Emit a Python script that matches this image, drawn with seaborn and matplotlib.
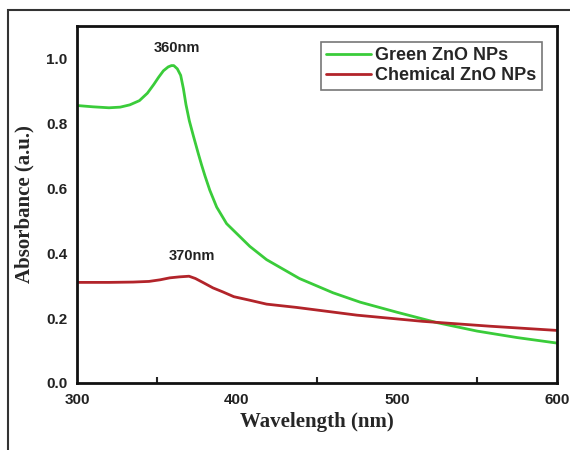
import numpy as np
import pandas as pd
import matplotlib
matplotlib.use("Agg")
import matplotlib.pyplot as plt
import seaborn as sns
from matplotlib.ticker import MultipleLocator
from matplotlib.patches import Rectangle

green_nm = [300, 310, 320, 327, 333, 339, 344, 348, 351, 354, 357, 359, 360.5, 362.7, 364.8,
            366.5, 368.1, 370.2, 372.7, 375.8, 377.8, 380, 383, 387.3, 393.5, 402, 408, 418.5,
            439, 460, 477, 500, 525, 550, 575, 600]
green_abs = [0.855, 0.851, 0.848, 0.850, 0.857, 0.870, 0.893, 0.920, 0.942, 0.962, 0.974, 0.978,
             0.978, 0.968, 0.948, 0.907, 0.858, 0.808, 0.762, 0.707, 0.673, 0.638, 0.594,
             0.542, 0.491, 0.450, 0.421, 0.380, 0.322, 0.278, 0.249, 0.218, 0.186, 0.160,
             0.140, 0.123]
chem_nm = [300, 320, 335, 345, 352, 358, 364, 370, 374, 379, 385, 391, 398, 408, 418.5, 437,
           475, 516, 558, 600]
chem_abs = [0.310, 0.310, 0.311, 0.313, 0.318, 0.324, 0.327, 0.329, 0.322, 0.309, 0.293, 0.281,
            0.266, 0.255, 0.243, 0.233, 0.209, 0.190, 0.175, 0.162]
series_names = ["Green ZnO NPs", "Chemical ZnO NPs"]
peak_labels = ["360nm", "370nm"]
peak_label_pos = [(362.5, 1.01), (372, 0.37)]

df = pd.concat([
    pd.DataFrame({"nm": green_nm, "abs": green_abs, "sample": series_names[0]}),
    pd.DataFrame({"nm": chem_nm, "abs": chem_abs, "sample": series_names[1]}),
])

sns.set_style("white")
plt.rcParams['font.family'] = ['Liberation Sans', 'DejaVu Sans']

fig = plt.figure(figsize=(5.7, 4.5), dpi=100)
ax = fig.add_axes([77/570, 67/450, 480/570, 357/450])

palette = {series_names[0]: "#3acc3a", series_names[1]: "#b2242a"}
sns.lineplot(data=df, x="nm", y="abs", hue="sample", palette=palette, linewidth=2.0,
             ax=ax, estimator=None, sort=True)
for ln in ax.get_lines():
    ln.set_solid_joinstyle('round')

ax.set_xlim(300, 600)
ax.set_ylim(0, 1.1)
ax.xaxis.set_major_locator(MultipleLocator(100))
ax.xaxis.set_minor_locator(MultipleLocator(50))
ax.yaxis.set_major_locator(MultipleLocator(0.2))
ax.yaxis.set_major_formatter(matplotlib.ticker.FormatStrFormatter('%.1f'))
ax.tick_params(axis='both', which='major', direction='out', length=4, width=1.5,
               labelsize=11, pad=3)
ax.tick_params(axis='x', which='minor', direction='in', length=4, width=1.5, bottom=True)
for lab in ax.get_xticklabels() + ax.get_yticklabels():
    lab.set_fontweight('bold')
    lab.set_color('#222222')
for sp in ax.spines.values():
    sp.set_linewidth(2)
    sp.set_color('#111111')

ax.set_xlabel("Wavelength (nm)", family=['Liberation Serif'], fontweight='bold', fontsize=15,
              labelpad=4)
ax.set_ylabel("Absorbance (a.u.)", family=['Liberation Serif'], fontweight='bold', fontsize=15,
              labelpad=8)

for txt, (xv, yv) in zip(peak_labels, peak_label_pos):
    ax.text(xv, yv, txt, ha='center', va='bottom', fontsize=10.5, fontweight='bold',
            color='#222222')

leg = ax.legend(loc='upper right', bbox_to_anchor=(0.968, 0.955), fontsize=13,
                frameon=True, fancybox=False, handlelength=2.5, handletextpad=0.2,
                borderpad=0.3, labelspacing=0.15, borderaxespad=0)
leg.get_frame().set_edgecolor('#555555')
leg.get_frame().set_linewidth(1.2)
for t in leg.get_texts():
    t.set_fontweight('bold')

fig.patches.append(Rectangle((8/570, -0.1), 1.2, 440/450 + 0.1, transform=fig.transFigure,
                             fill=False, edgecolor='#333333', linewidth=1.5, zorder=0))

fig.savefig("out.png", dpi=100)
